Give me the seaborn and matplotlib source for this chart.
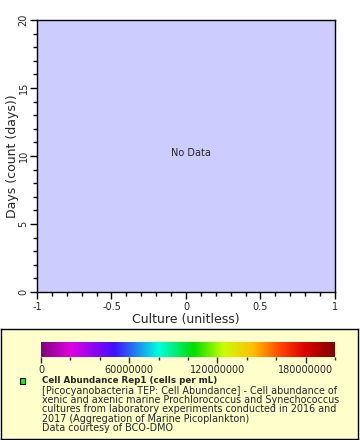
import numpy as np
import pandas as pd
import matplotlib
matplotlib.use("Agg")
import matplotlib.pyplot as plt
import seaborn as sns
from matplotlib.colors import LinearSegmentedColormap
from matplotlib.ticker import MultipleLocator

culture = []
days = []
x_ticks = [-1, -0.5, 0, 0.5, 1]
x_tick_labels = ["-1", "-0.5", "0", "0.5", "1"]
y_ticks = [0, 5, 10, 15, 20]
cbar_ticks = [0, 60000000, 120000000, 180000000]
cbar_tick_labels = ["0", "60000000", "120000000", "180000000"]
cbar_range = [0, 200000000]

sns.set_style("ticks")
plt.rcParams['font.family'] = ['DejaVu Sans']

fig = plt.figure(figsize=(3.6, 4.4), dpi=100)
ax = fig.add_axes([37/360, 1-292/440, (335-37)/360, (292-20)/440])
df = pd.DataFrame({"Culture": pd.Series(culture, dtype=float), "Days": pd.Series(days, dtype=float)})
sns.scatterplot(data=df, x="Culture", y="Days", ax=ax, color="#00ff00")
ax.set_facecolor("#CCCCFF")
ax.set_xlim(-1, 1)
ax.set_ylim(0, 20)
ax.set_xticks(x_ticks)
ax.set_xticklabels(x_tick_labels, fontsize=7)
ax.set_yticks(y_ticks)
ax.set_yticklabels([str(v) for v in y_ticks], fontsize=7, rotation=90, va="center")
ax.xaxis.set_minor_locator(MultipleLocator(0.1))
ax.yaxis.set_minor_locator(MultipleLocator(1))
ax.tick_params(which="major", length=5, width=1, color="black")
ax.tick_params(axis="x", which="major", pad=2)
ax.tick_params(axis="y", which="major", pad=1)
ax.tick_params(which="minor", length=3, width=1, color="black")
for s in ax.spines.values():
    s.set_color("black"); s.set_linewidth(1)
ax.set_xlabel("Culture (unitless)", fontsize=9, labelpad=1)
ax.set_ylabel("Days (count (days))", fontsize=9, labelpad=0)
ax.text(0.03, 10.2, "No Data", ha="center", va="center", fontsize=7)

# legend box
lax = fig.add_axes([1/360, 1-439/440, 357/360, (439-329)/440])
lax.set_facecolor("#FFFFCC")
lax.set_xticks([]); lax.set_yticks([])
for s in lax.spines.values():
    s.set_color("black"); s.set_linewidth(1)
lax.set_xlim(0, 357); lax.set_ylim(110, 0)

cmap = LinearSegmentedColormap.from_list("rb2", [
    (0.0, "#800080"), (0.1, "#e000e0"), (0.25, "#4010ff"), (0.4, "#00ffe0"),
    (0.52, "#00dd00"), (0.62, "#c8ff00"), (0.72, "#ffc000"), (0.82, "#ff4000"),
    (0.9, "#dd0000"), (1.0, "#800000")])
cax = fig.add_axes([41/360, 1-357/440, (335-41)/360, 15/440])
grad = np.linspace(cbar_range[0], cbar_range[1], 512).reshape(1, -1)
cax.imshow(grad, aspect="auto", cmap=cmap, extent=[cbar_range[0], cbar_range[1], 0, 1])
cax.set_xlim(cbar_range)
cax.set_yticks([])
cax.set_xticks(cbar_ticks)
cax.set_xticklabels(cbar_tick_labels, fontsize=7)
cax.xaxis.set_minor_locator(MultipleLocator(20000000))
cax.tick_params(which="major", length=4, width=1, pad=2)
cax.tick_params(which="minor", length=2, width=1)
for s in cax.spines.values():
    s.set_visible(False)

lax.add_patch(plt.Rectangle((18.5, 49), 5.5, 5.5, facecolor="#00ff00", edgecolor="black", lw=0.8))
lax.text(41, 51.5, "Cell Abundance Rep1 (cells per mL)", fontsize=6.3, fontweight="bold", va="center")
lax.text(41, 56.5, "[Picocyanobacteria TEP: Cell Abundance] - Cell abundance of\n"
         "xenic and axenic marine Prochlorococcus and Synechococcus\n"
         "cultures from laboratory experiments conducted in 2016 and\n"
         "2017 (Aggregation of Marine Picoplankton)\n"
         "Data courtesy of BCO-DMO", fontsize=6.9, va="top", linespacing=0.93)

fig.savefig("out.png", dpi=100)
